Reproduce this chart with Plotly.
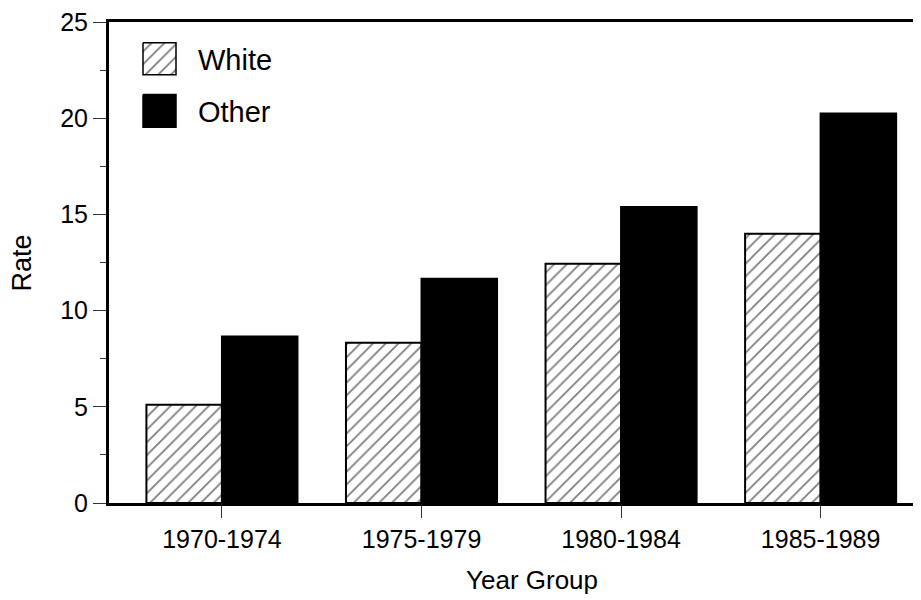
import plotly.graph_objects as go

categories = ["1970-1974", "1975-1979", "1980-1984", "1985-1989"]
white_rate = [5.11, 8.33, 12.43, 14.0]
other_rate = [8.66, 11.66, 15.38, 20.25]
y_ticks = [0, 5, 10, 15, 20, 25]
legend_labels = ["White", "Other"]

# page has an 8px body margin; compensate so the plot lands where the reference has it
OFF = 8
W, H = 921 - OFF, 600 - OFF
PL, PR, PT, PB = 109, 921, 19, 503          # plot area in page pixels
L, R, T, B = PL - OFF, (W + OFF) - PR, PT - OFF, H - (PB - OFF)
FONT = "Liberation Sans, Arial, sans-serif"


def px_x(p):
    return (p - PL) / (PR - PL)


def px_y(p):
    return (PB - p) / (PB - PT)


HATCH = dict(shape="/", size=9, solidity=0.2, fgcolor="black", bgcolor="white")

fig = go.Figure()
fig.add_trace(go.Bar(
    x=categories, y=white_rate, name="White", showlegend=False,
    marker=dict(color="white", line=dict(color="black", width=2),
                pattern=dict(HATCH, fillmode="overlay")),
))
fig.add_trace(go.Bar(
    x=categories, y=other_rate, name="Other", showlegend=False,
    marker=dict(color="black", line=dict(color="black", width=2)),
))

# legend swatches on an overlay axis measured in page pixels
sw = [(143, 176, 40, 72), (143, 176, 92, 125)]
for i, (x0, x1, y0, y1) in enumerate(sw):
    kw = dict(x=[x0, x1, x1, x0, x0], y=[y0, y0, y1, y1, y0], mode="lines", fill="toself",
              line=dict(color="black", width=1.5), xaxis="x2", yaxis="y2",
              showlegend=False, hoverinfo="skip")
    if i == 0:
        kw["fillcolor"] = "white"
        kw["fillpattern"] = HATCH
    else:
        kw["fillcolor"] = "black"
    fig.add_trace(go.Scatter(**kw))

for i, lab in enumerate(legend_labels):
    x0, x1, y0, y1 = sw[i]
    fig.add_annotation(x=px_x(196), y=px_y((y0 + y1) / 2 + 1), xref="paper", yref="paper", text=lab,
                       showarrow=False, xanchor="left", yanchor="middle",
                       font=dict(size=29, color="black", family=FONT))

fig.update_layout(
    width=W, height=H, margin=dict(l=L, r=R, t=T, b=B, pad=0),
    plot_bgcolor="white", paper_bgcolor="white",
    barmode="group", bargap=0.243, bargroupgap=0,
    font=dict(family=FONT, color="black"),
    xaxis=dict(range=[-0.566, 3.503], showgrid=False, showline=True, linecolor="black", linewidth=3,
               mirror=True, ticks="outside", ticklen=12, tickwidth=1, tickcolor="#333",
               tickfont=dict(size=25), zeroline=False),
    yaxis=dict(range=[0, 25], tickvals=y_ticks, showgrid=False, showline=True, linecolor="black",
               linewidth=3, ticks="outside", ticklen=13, tickwidth=1, tickcolor="#333",
               tickfont=dict(size=25), zeroline=False, ticklabeloverflow="allow",
               minor=dict(dtick=2.5, ticks="outside", ticklen=6, tickwidth=1, tickcolor="#333",
                          showgrid=False)),
    xaxis2=dict(range=[PL, PR], overlaying="x", visible=False, fixedrange=True),
    yaxis2=dict(range=[PB, PT], overlaying="y", visible=False, fixedrange=True),
)

fig.add_annotation(text="Year Group", x=px_x(532), y=px_y(580), xref="paper", yref="paper",
                   showarrow=False, xanchor="center", yanchor="middle", font=dict(size=26))
fig.add_annotation(text="Rate", x=px_x(22), y=px_y(262), xref="paper", yref="paper",
                   showarrow=False, textangle=-90, xanchor="center", yanchor="middle",
                   font=dict(size=27))

fig.write_html("out.html")
